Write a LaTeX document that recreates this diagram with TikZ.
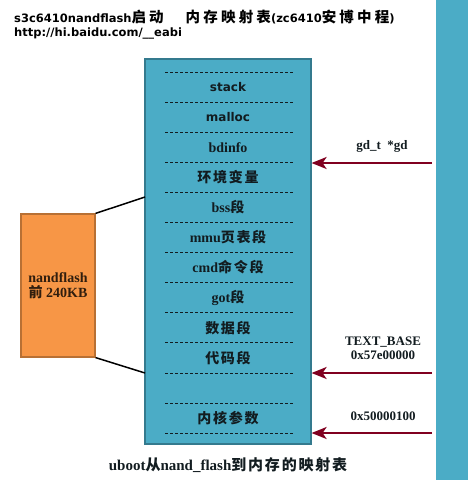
\documentclass[tikz,border=0pt]{standalone}
\usepackage{fontspec}
\setmainfont{Liberation Serif}
\setsansfont{DejaVu Sans}
\newfontfamily\cjk{Noto Sans CJK SC}[LetterSpace=12]
\newfontfamily\cjklargo{Noto Sans CJK SC}[LetterSpace=22]
\newcommand{\cinese}[1]{{\cjk #1}}
\newcommand{\cinesetitolo}[1]{{\fontsize{14.5}{14}\cjklargo #1}}
\usetikzlibrary{arrows.meta, positioning}
\definecolor{bluAccento}{RGB}{75,172,198}
\definecolor{bluBordo}{RGB}{52,122,142}
\definecolor{arancio}{RGB}{247,150,70}
\definecolor{aranBordo}{RGB}{184,112,52}
\definecolor{rossoScuro}{RGB}{128,0,32}
\definecolor{testoScuro}{RGB}{18,28,32}

\begin{document}
\begin{tikzpicture}[x=1pt, y=-1pt,
    riga/.style={font=\bfseries\fontsize{14}{16}\selectfont, text=testoScuro},
    etichetta/.style={font=\bfseries\fontsize{13}{14}\selectfont, text=testoScuro, align=center},
    freccia/.style={rossoScuro, line width=2pt, -{Stealth[length=15pt, width=12pt, inset=4pt]}},
    linea/.style={black, line width=1.5pt}]
    \useasboundingbox (0,0) rectangle (468,480);

    % Right bar
    \fill[bluAccento] (436,0) rectangle (468,480);

    % Title
    \node[anchor=west, font=\sffamily\bfseries\fontsize{11.5}{12}\selectfont, inner sep=0pt] (titolo) at (14,17)
        {s3c6410nandflash\cinesetitolo{启动}\hspace{22pt}\cinesetitolo{内存映射表}(zc6410\cinesetitolo{安博中程})};
    \node[anchor=west, font=\sffamily\bfseries\fontsize{11.5}{12}\selectfont, inner sep=0pt] (sito) at (14,33)
        {http://hi.baidu.com/\_\_eabi};

    % Memory map
    \node[draw=bluBordo, line width=1.2pt, fill=bluAccento, minimum width=166pt, minimum height=385pt, inner sep=0pt] (mem) at (228,251.5) {};
    \foreach \i in {0,...,12}
        \draw[testoScuro, line width=0.6pt, dash pattern=on 3pt off 2pt] (165,72+30.08*\i) -- (293,72+30.08*\i);
    \foreach \testo [count=\i] in {{\sffamily\fontsize{12}{14}\selectfont stack}, {\sffamily\fontsize{12}{14}\selectfont malloc},
        bdinfo, \cinese{环境变量}, bss\cinese{段}, mmu\cinese{页表段}, cmd\cinese{命令段}, got\cinese{段},
        \cinese{数据段}, \cinese{代码段}, {}, \cinese{内核参数}}
        \node[riga] (r\i) at (228,57+30.08*\i) {\testo};

    % Nand flash
    \node[draw=aranBordo, line width=1.2pt, fill=arancio, minimum width=74pt, minimum height=143pt, inner sep=0pt,
        align=center, font=\bfseries\fontsize{14}{15}\selectfont, text=black!80!arancio] (flash) at (58,285.5)
        {nandflash\\\cinese{前} 240KB};
    \coordinate (attaccoAlto) at (145,197);
    \coordinate (attaccoBasso) at (145,373);
    \draw[linea] (flash.north east) -- (attaccoAlto);
    \draw[linea] (flash.south east) -- (attaccoBasso);

    % Pointers
    \coordinate (gdInizio) at (432,163);
    \coordinate (baseInizio) at (432,373);
    \coordinate (kernInizio) at (432,433);
    \draw[freccia] (gdInizio) -- (gdInizio -| mem.east);
    \draw[freccia] (baseInizio) -- (baseInizio -| mem.east);
    \draw[freccia] (kernInizio) -- (kernInizio -| mem.east);
    \node[etichetta] (gdTesto) at (382,146) {gd\_t\ \ *gd};
    \node[etichetta] (baseTesto) at (383,348) {TEXT\_BASE\\0x57e00000};
    \node[etichetta] (kernTesto) at (383,416) {0x50000100};

    % Caption
    \node[font=\bfseries\fontsize{15}{16}\selectfont, text=testoScuro] (didascalia) at (228,465)
        {uboot\cinese{从}nand\_flash\cinese{到内存的映射表}};
\end{tikzpicture}
\end{document}
